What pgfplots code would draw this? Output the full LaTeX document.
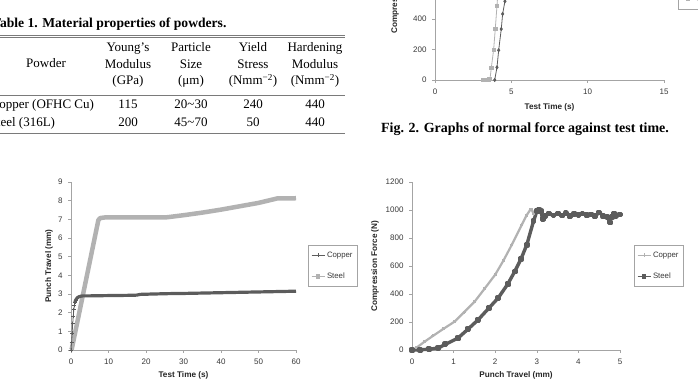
\documentclass[border=0pt]{standalone}
\usepackage{fontspec}
\setmainfont{Liberation Serif}
\newfontfamily\arial{Liberation Sans}
\usepackage{pgfplots}
\pgfplotsset{compat=1.18}

\definecolor{axgray}{HTML}{A4A4A4}
\definecolor{lightser}{HTML}{B2B2B2}
\definecolor{darkser}{HTML}{5C5C5C}
\definecolor{ticktxt}{HTML}{383838}
\definecolor{rulegray}{HTML}{7A7A7A}

\pgfplotsset{
  excelchart/.style={
    scale only axis,
    axis lines=left,
    axis line style={-, axgray, line width=0.9pt},
    tick style={axgray, line width=0.6pt},
    tick align=outside,
    major tick length=3pt,
    tick label style={font=\arial\fontsize{8}{9.6}\selectfont, text=ticktxt},
    xticklabel style={yshift=-2.5pt},
    yticklabel style={xshift=-2pt},
    /pgf/number format/assume math mode=true,
    /pgf/number format/1000 sep={},
    label style={font=\arial\bfseries\fontsize{8.2}{9.8}\selectfont, text=black!85},
    enlargelimits=false,
    clip=false,
    legend cell align=left,
    legend style={at={(1,0.5)}, anchor=west, draw=axgray, fill=white,
      font=\arial\fontsize{7.8}{9.4}\selectfont, text=ticktxt,
      inner xsep=3pt, inner ysep=4.5pt, row sep=10pt},
    legend image code/.code={\draw[mark repeat=2,mark phase=2,##1]
      plot coordinates {(0pt,0pt) (6.5pt,0pt) (13pt,0pt)};},
  },
}

\begin{document}
\begin{tikzpicture}[x=1pt,y=1pt]
\useasboundingbox (0pt,0pt) rectangle (698pt,385pt);
\clip (0pt,0pt) rectangle (698pt,385pt);

% ---------------- Table 1 ----------------
\node[anchor=base west, inner sep=0pt, font=\bfseries\fontsize{13.6}{16}\selectfont]
  at (-8pt,357.5pt) {Table 1. Material properties of powders.};
\draw[rulegray, line width=0.6pt] (-10pt,349.5pt) -- (345pt,349.5pt);
\draw[rulegray, line width=0.6pt] (-10pt,347.3pt) -- (345pt,347.3pt);
\draw[rulegray, line width=0.6pt] (-10pt,290pt) -- (345pt,290pt);
\draw[rulegray, line width=0.9pt] (-10pt,252pt) -- (345pt,252pt);

\begin{scope}[every node/.style={anchor=base, inner sep=0pt, font=\fontsize{13}{15.6}\selectfont}]
  \node at (46pt,317.5pt) {Powder};
  \node at (128pt,333pt) {Young’s};   \node at (128pt,316.5pt) {Modulus}; \node at (128pt,300pt) {(GPa)};
  \node at (191pt,333pt) {Particle};  \node at (191pt,316.5pt) {Size};    \node at (191pt,300pt) {(μm)};
  \node at (253pt,333pt) {Yield};     \node at (253pt,316.5pt) {Stress};  \node at (253pt,300pt) {(Nmm\textsuperscript{−2})};
  \node at (315pt,333pt) {Hardening}; \node at (315pt,316.5pt) {Modulus}; \node at (315pt,300pt) {(Nmm\textsuperscript{−2})};
  \node[anchor=base west] at (-9.5pt,276.5pt) {Copper (OFHC Cu)};
  \node at (128pt,276.5pt) {115}; \node at (191pt,276.5pt) {20\textasciitilde 30};
  \node at (253pt,276.5pt) {240}; \node at (315pt,276.5pt) {440};
  \node[anchor=base west] at (-10.5pt,258.5pt) {Steel (316L)};
  \node at (128pt,258.5pt) {200}; \node at (191pt,258.5pt) {45\textasciitilde 70};
  \node at (253pt,258.5pt) {50};  \node at (315pt,258.5pt) {440};
\end{scope}

% ---------------- Fig. 2 (normal force against test time) ----------------
\begin{axis}[excelchart,
  at={(435pt,305pt)}, anchor=south west,
  width=229pt, height=183pt,
  xmin=0, xmax=15, ymin=0, ymax=1200,
  xtick={0,5,10,15}, ytick={0,200,...,1200},
  xlabel={Test Time (s)}, ylabel={Compression Force (N)},
  xlabel style={at={(axis description cs:0.5,-0.148)}, anchor=center},
  ylabel style={at={(axis description cs:-0.175,0.5)}, anchor=center},
  legend style={xshift=14pt},
]
\addplot[lightser, line width=0.8pt, mark=square*, mark size=1.6pt, forget plot]
  coordinates {(3.12,0) (3.2,0) (3.28,0) (3.36,1) (3.43,2) (3.52,4) (3.6,6)
               (3.69,81) (3.84,199) (3.95,337) (4.06,487) (4.16,630)};
\addplot[darkser, line width=0.8pt, mark=diamond*, mark size=1.5pt, forget plot]
  coordinates {(3.91,0) (4.06,83) (4.17,195) (4.34,334) (4.43,433) (4.58,516) (4.7,640)};
\addlegendimage{darkser, line width=0.8pt, mark=diamond*, mark size=1.5pt}
\addlegendentry{Copper}
\addlegendimage{lightser, line width=0.8pt, mark=square*, mark size=1.6pt}
\addlegendentry{Steel}
\end{axis}

\node[anchor=base, inner sep=0pt, font=\bfseries\fontsize{14}{16}\selectfont]
  at (525pt,252.5pt) {Fig. 2. Graphs of normal force against test time.};

% ---------------- Punch travel against test time ----------------
\begin{axis}[excelchart,
  at={(71pt,35pt)}, anchor=south west,
  width=225pt, height=168pt,
  xmin=0, xmax=60, ymin=0, ymax=9,
  xtick={0,10,...,60}, ytick={0,1,...,9},
  xlabel={Test Time (s)}, ylabel={Punch Travel (mm)},
  xlabel style={at={(axis description cs:0.5,-0.149)}, anchor=center},
  ylabel style={at={(axis description cs:-0.098,0.5)}, anchor=center},
  legend style={xshift=12pt},
]
% steel: thick light band
\addplot[lightser, line width=4.5pt, line join=round, forget plot]
  coordinates {(0,0) (0.2,0.05) (7.3,6.96) (7.8,7.07) (9,7.1) (15,7.1) (20,7.1)
               (25,7.1) (26,7.12) (30,7.22) (35,7.36) (40,7.52) (45,7.7)
               (50,7.88) (55,8.12) (60,8.13)};
% copper: early points with markers, then a dense dark band
\addplot[darkser, line width=0.8pt, mark=+, mark size=2pt, forget plot]
  coordinates {(0,0) (0.15,0.4) (0.3,0.9) (0.45,1.4) (0.6,1.8) (0.75,2.15)
               (0.9,2.4) (1.05,2.55) (1.2,2.65)};
\addplot[darkser, line width=3.2pt, line join=round, forget plot]
  coordinates {(1.05,2.55) (1.2,2.65) (1.4,2.72) (1.7,2.8) (2.1,2.85) (2.6,2.88)
               (3.2,2.9) (5,2.9) (8,2.91) (12,2.92) (16,2.93) (17.5,2.94)
               (18.5,2.98) (22,3.0) (26,3.02) (30,3.03) (35,3.05) (40,3.07)
               (45,3.09) (50,3.11) (55,3.13) (60,3.15)};
\addlegendimage{darkser, line width=0.8pt, mark=+, mark size=2pt}
\addlegendentry{Copper}
\addlegendimage{lightser, line width=0.8pt, mark=square*, mark size=1.6pt}
\addlegendentry{Steel}
\end{axis}

% ---------------- Compression force against punch travel ----------------
\begin{axis}[excelchart,
  at={(412pt,35pt)}, anchor=south west,
  width=208pt, height=168pt,
  xmin=0, xmax=5, ymin=0, ymax=1200,
  xtick={0,1,...,5}, ytick={0,200,...,1200},
  xlabel={Punch Travel (mm)}, ylabel={Compression Force (N)},
  xlabel style={at={(axis description cs:0.5,-0.149)}, anchor=center},
  ylabel style={at={(axis description cs:-0.178,0.5)}, anchor=center},
  legend style={xshift=14pt},
]
\addplot[lightser, line width=2.2pt, line join=round, mark=+, mark size=1.5pt, forget plot]
  coordinates {(0,0) (0.1,15) (0.31,61) (0.5,100) (0.75,150) (1.03,204) (1.25,270)
               (1.51,347) (1.75,440) (2.0,538) (2.2,640) (2.4,752) (2.64,895)
               (2.75,960) (2.84,1000) (2.88,1000) (2.92,975) (2.96,995) (3.0,1000)};
\addplot[darkser, line width=3.4pt, line join=round, mark=square*, mark size=1.2pt, forget plot]
  coordinates {(0,0) (0.2,2) (0.4,5) (0.63,14) (0.8,40) (1.11,86) (1.35,150)
               (1.59,216) (1.85,300) (2.07,371) (2.3,470) (2.47,561) (2.62,650)
               (2.76,752) (2.92,919) (3.0,990) (3.05,1000) (3.1,990) (3.14,935)
               (3.2,955) (3.3,975) (3.4,960) (3.5,975) (3.6,960) (3.7,978)
               (3.8,955) (3.9,970) (4.0,962) (4.1,975) (4.2,965) (4.3,968)
               (4.4,955) (4.5,982) (4.6,958) (4.7,950) (4.75,910) (4.8,950)
               (4.85,975) (4.9,958) (5.0,968)};
\addlegendimage{lightser, line width=0.8pt, mark=+, mark size=2pt}
\addlegendentry{Copper}
\addlegendimage{darkser, line width=0.8pt, mark=square*, mark size=1.6pt}
\addlegendentry{Steel}
\end{axis}
\end{tikzpicture}
\end{document}
